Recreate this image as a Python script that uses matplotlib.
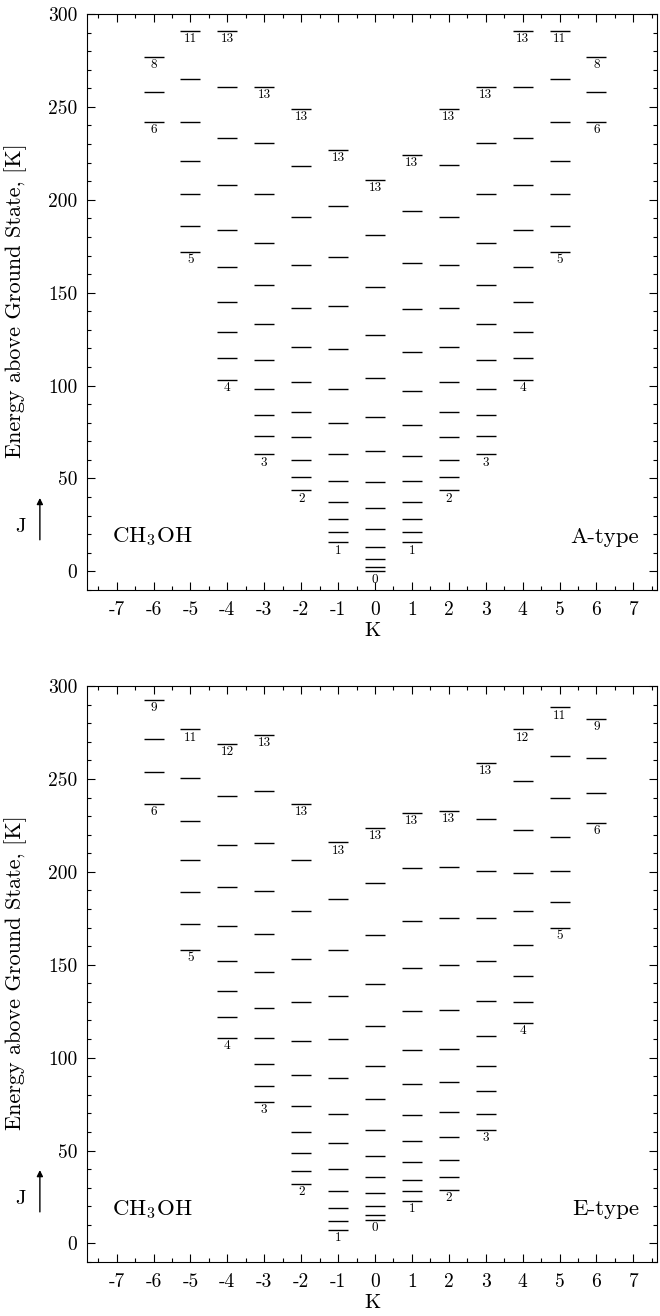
import matplotlib
matplotlib.use("Agg")
import matplotlib.pyplot as plt
from matplotlib.ticker import MultipleLocator

plt.rcParams['font.family'] = ['cmr10', 'DejaVu Serif']
plt.rcParams['mathtext.fontset'] = 'cm'
plt.rcParams['axes.unicode_minus'] = False
plt.rcParams['axes.formatter.use_mathtext'] = True

# K columns shown in both panels
k_values = [-6, -5, -4, -3, -2, -1, 0, 1, 2, 3, 4, 5, 6]
k_ticks = [-7, -6, -5, -4, -3, -2, -1, 0, 1, 2, 3, 4, 5, 6, 7]
k_ticklabels = ["-7", "-6", "-5", "-4", "-3", "-2", "-1", "0", "1", "2", "3", "4", "5", "6", "7"]
e_ticks = [0, 50, 100, 150, 200, 250, 300]

# A-type: lowest J of each K ladder and level energies [K], J ascending
a_jlow = [6, 5, 4, 3, 2, 1, 0, 1, 2, 3, 4, 5, 6]
a_energy = [
    [241.8, 258.0, 276.8],
    [171.8, 185.8, 203.0, 220.8, 241.8, 265.0, 290.8],
    [102.9, 114.7, 128.7, 144.9, 163.7, 183.6, 207.9, 233.2, 260.6, 290.8],
    [63.0, 72.7, 84.0, 98.0, 113.6, 133.0, 154.0, 176.6, 203.0, 230.5, 260.6],
    [43.6, 50.6, 59.8, 72.2, 85.6, 101.8, 120.6, 141.6, 164.8, 190.6, 218.0, 248.8],
    [15.6, 21.0, 28.0, 37.2, 48.5, 63.0, 79.7, 98.0, 119.5, 142.7, 169.0, 196.6, 226.7],
    [0.0, 2.3, 6.6, 13.3, 22.9, 34.3, 48.2, 64.8, 83.2, 104.2, 127.0, 153.0, 181.0, 210.6],
    [15.6, 21.0, 28.0, 37.2, 48.5, 61.9, 78.6, 96.9, 117.9, 141.0, 165.8, 193.9, 224.0],
    [43.6, 50.6, 59.8, 72.2, 85.6, 101.8, 120.6, 141.6, 164.8, 190.6, 218.6, 248.8],
    [63.0, 72.7, 84.0, 98.0, 113.6, 133.0, 154.0, 176.6, 203.0, 230.5, 260.6],
    [102.9, 114.7, 128.7, 144.9, 163.7, 183.6, 207.9, 233.2, 260.6, 290.8],
    [171.8, 185.8, 203.0, 220.8, 241.8, 265.0, 290.8],
    [241.8, 258.0, 276.8],
]

# E-type
e_jlow = [6, 5, 4, 3, 2, 1, 0, 1, 2, 3, 4, 5, 6]
e_energy = [
    [236.7, 253.8, 271.7, 292.6],
    [157.9, 171.7, 188.9, 206.6, 227.6, 250.7, 276.7],
    [110.8, 121.7, 136.0, 151.8, 170.8, 191.6, 214.7, 240.7, 268.8],
    [76.0, 85.0, 96.8, 110.8, 126.7, 145.9, 166.8, 189.8, 215.6, 243.7, 273.7],
    [32.1, 39.1, 48.9, 59.8, 74.0, 90.9, 109.0, 129.7, 152.9, 178.9, 206.6, 236.7],
    [7.2, 12.2, 19.2, 28.1, 40.2, 53.9, 69.9, 88.9, 109.8, 133.0, 157.9, 185.6, 215.8],
    [12.8, 15.1, 20.1, 27.0, 36.0, 46.9, 60.9, 78.0, 95.7, 116.8, 139.6, 166.0, 193.9, 223.8],
    [23.1, 28.1, 34.0, 43.9, 55.0, 69.0, 85.9, 103.9, 124.9, 148.1, 173.8, 201.8, 231.6],
    [29.0, 36.0, 45.0, 57.2, 71.0, 86.9, 104.8, 125.8, 149.9, 174.9, 202.7, 232.6],
    [60.9, 69.9, 81.9, 95.7, 111.8, 130.6, 151.8, 174.9, 200.7, 228.7, 258.8],
    [118.8, 129.7, 143.8, 160.8, 178.7, 199.6, 222.6, 248.8, 276.7],
    [169.7, 183.9, 200.7, 218.8, 239.6, 262.5, 288.5],
    [226.5, 242.6, 261.4, 282.4],
]


def draw_panel(ax, jlow, energies, sym_text):
    half = 0.27
    for k, j0, levels in zip(k_values, jlow, energies):
        ax.hlines(levels, k - half, k + half, color="black", lw=1.0)
        # J labels below lowest and highest level of each ladder
        for e, j in ((levels[0], j0), (levels[-1], j0 + len(levels) - 1)):
            ax.annotate(str(j), (k, e), xytext=(0, -1.5), textcoords="offset points",
                        ha="center", va="top", fontsize=9.5)

    ax.set_xlim(-7.8, 7.65)
    ax.set_ylim(-10, 300)
    ax.set_xticks(k_ticks)
    ax.set_xticklabels(k_ticklabels)
    ax.set_yticks(e_ticks)
    ax.set_yticklabels([str(v) for v in e_ticks])
    ax.xaxis.set_minor_locator(MultipleLocator(0.5))
    ax.yaxis.set_minor_locator(MultipleLocator(10))
    ax.tick_params(which="both", direction="in", top=True, right=True, labelsize=14, width=0.8)
    ax.tick_params(which="major", length=6)
    ax.tick_params(which="minor", length=3)
    ax.tick_params(axis="x", which="major", pad=8)
    ax.tick_params(axis="y", which="major", pad=7)
    for s in ax.spines.values():
        s.set_linewidth(0.8)

    ax.set_xlabel("K", fontsize=15, labelpad=2)
    ax.set_ylabel("Energy above Ground State, [K]", fontsize=16)
    ax.yaxis.set_label_coords(-0.105, 0.503)

    ax.text(-7.13, 18.5, r"CH$_3$OH", fontsize=16.5, ha="left", va="center")
    ax.text(7.15, 18.5, sym_text, fontsize=16.5, ha="right", va="center")

    # J arrow outside the axes
    ax.annotate("", xy=(-9.08, 41), xytext=(-9.08, 15.5),
                arrowprops=dict(arrowstyle="-|>", lw=1.0, color="black", mutation_scale=9),
                annotation_clip=False)
    ax.text(-9.6, 24, "J", fontsize=15, ha="center", va="center", clip_on=False)


fig = plt.figure(figsize=(6.6, 13.16), dpi=100)
ax1 = fig.add_axes([0.132, 0.5517, 0.864, 0.4377])
ax2 = fig.add_axes([0.132, 0.041, 0.864, 0.4377])

draw_panel(ax1, a_jlow, a_energy, "A-type")
draw_panel(ax2, e_jlow, e_energy, "E-type")

fig.savefig("out.png", dpi=100)
